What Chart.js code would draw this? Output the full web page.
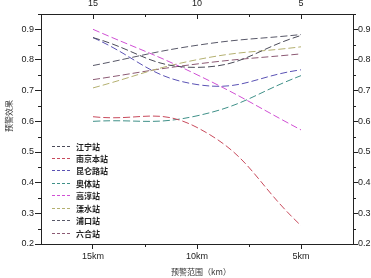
<!DOCTYPE html>
<html>
<head>
<meta charset="utf-8">
<script src="https://cdn.jsdelivr.net/npm/chart.js@4.4.0/dist/chart.umd.min.js"></script>
<style>
html, body { margin: 0; padding: 0; background: #fff; }
#grafico { display: block; }
</style>
</head>
<body>
<canvas id="grafico" width="371" height="278"></canvas>
<script>
// distancias de alerta (km) e marcas do eixo y
const distancias = [15, 10, 5];
const marcasY = [0.2, 0.3, 0.4, 0.5, 0.6, 0.7, 0.8, 0.9];

// nomes das estacoes
const estacoes = ['江宁站', '南京本站', '昆仑路站', '奥体站', '高淳站', '溧水站', '浦口站', '六合站'];

// efeito de alerta por estacao (15km, 10km, 5km)
const jiangning = [0.873, 0.776, 0.880];
const nanjing = [0.615, 0.580, 0.260];
const kunlunlu = [0.873, 0.720, 0.768];
const aoti = [0.600, 0.618, 0.749];
const gaochun = [0.900, 0.752, 0.572];
const lishui = [0.709, 0.801, 0.843];
const pukou = [0.782, 0.848, 0.883];
const luhe = [0.736, 0.787, 0.820];

const series = [jiangning, nanjing, kunlunlu, aoti, gaochun, lishui, pukou, luhe];
const cores = ['#4a4a58', '#c84a5c', '#5a52b4', '#3f9088', '#d050d4', '#b4b070', '#585868', '#8c5a74'];

const corEixo = '#222';
const fonteNum = { family: 'Liberation Sans', size: 9 };
const fonteCJK = '"Noto Sans CJK SC", sans-serif';

let datasets = [];
for (let i = 0; i < estacoes.length; i++) {
    datasets.push({
        label: estacoes[i],
        data: distancias.map((d, j) => ({ x: d, y: series[i][j] })),
        borderColor: cores[i],
        backgroundColor: cores[i],
        borderWidth: 1,
        borderDash: [7, 3],
        pointRadius: 0,
        tension: 0.45,
        fill: false
    });
}

// ticks menores, titulos e legenda desenhados a mao
const extras = {
    id: 'extras',
    afterDraw(chart) {
        const ctx = chart.ctx;
        const area = chart.chartArea;
        const sx = chart.scales.x;
        const sy = chart.scales.y;
        ctx.save();
        ctx.strokeStyle = corEixo;
        ctx.lineWidth = 1;
        ctx.beginPath();
        // minor y
        for (let v = 0.25; v < 0.95; v += 0.1) {
            const py = Math.round(sy.getPixelForValue(v)) + 0.5;
            ctx.moveTo(area.left, py); ctx.lineTo(area.left - 3, py);
            ctx.moveTo(area.right, py); ctx.lineTo(area.right + 3, py);
        }
        // minor x (bottom out, top in)
        [7.5, 12.5].forEach(v => {
            const px = Math.round(sx.getPixelForValue(v)) + 0.5;
            ctx.moveTo(px, area.bottom); ctx.lineTo(px, area.bottom + 3);
            ctx.moveTo(px, area.top); ctx.lineTo(px, area.top + 3);
        });
        // major top ticks, pointing in
        distancias.forEach(v => {
            const px = Math.round(sx.getPixelForValue(v)) + 0.5;
            ctx.moveTo(px, area.top); ctx.lineTo(px, area.top + 5);
        });
        ctx.stroke();

        // titulos
        ctx.fillStyle = '#333';
        ctx.font = '8px ' + fonteCJK;
        ctx.textAlign = 'center';
        ctx.textBaseline = 'middle';
        ctx.fillText('预警范围（km）', 201, 272);
        ctx.translate(8.5, 116);
        ctx.rotate(-Math.PI / 2);
        ctx.fillText('预警效果', 0, 0);
        ctx.restore();

        // legenda
        ctx.save();
        ctx.font = 'bold 8px ' + fonteCJK;
        ctx.textAlign = 'left';
        ctx.textBaseline = 'middle';
        chart.data.datasets.forEach((ds, i) => {
            const y = Math.round(145.5 + i * 12.45) + 0.5;
            ctx.strokeStyle = ds.borderColor;
            ctx.setLineDash([3, 2]);
            ctx.beginPath();
            ctx.moveTo(52, y);
            ctx.lineTo(72, y);
            ctx.stroke();
            ctx.fillStyle = '#222';
            ctx.fillText(ds.label, 76, y);
        });
        ctx.restore();
    }
};

const eixoY = (pos, largura, tl, pad) => ({
    type: 'linear',
    position: pos,
    min: 0.2,
    max: 0.95,
    afterBuildTicks: s => { s.ticks = marcasY.map(v => ({ value: v })); },
    afterFit: s => { s.width = largura; },
    ticks: { callback: v => v.toFixed(1), font: fonteNum, color: corEixo, padding: pad },
    grid: { drawOnChartArea: false, tickLength: tl, color: corEixo },
    border: { color: corEixo }
});

const eixoX = (pos, altura, sufixo) => ({
    type: 'linear',
    position: pos,
    min: 2.5,
    max: 17.5,
    reverse: true,
    afterBuildTicks: s => { s.ticks = distancias.map(v => ({ value: v })); },
    afterFit: s => { s.height = altura; },
    ticks: { callback: v => v + sufixo, font: fonteNum, color: corEixo, padding: pos === 'top' ? 5 : 2, maxRotation: 0 },
    grid: { drawOnChartArea: false, drawTicks: pos !== 'top', tickLength: 5, color: corEixo },
    border: { color: corEixo }
});

const config = {
    type: 'line',
    data: { datasets: datasets },
    options: {
        responsive: false,
        animation: false,
        devicePixelRatio: 1,
        layout: { padding: 0 },
        plugins: { legend: { display: false }, tooltip: { enabled: false } },
        scales: {
            x: eixoX('bottom', 34, 'km'),
            x2: eixoX('top', 14, ''),
            y: eixoY('left', 41, 6, 1),
            y2: eixoY('right', 18, 5, 0)
        }
    },
    plugins: [extras]
};

new Chart(document.getElementById('grafico').getContext('2d'), config);
</script>
</body>
</html>
